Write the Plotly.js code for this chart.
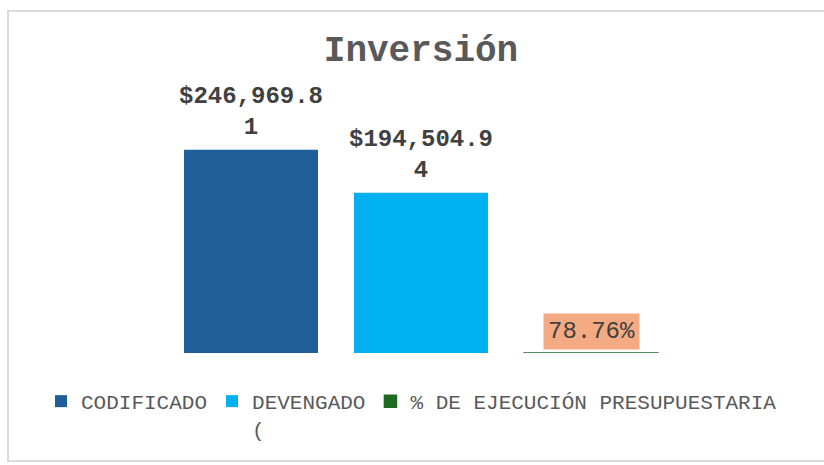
<!DOCTYPE html>
<html>
<head>
<meta charset="utf-8">
<script src="https://cdn.plot.ly/plotly-3.0.1.min.js"></script>
<style>
  body { margin: 0; background: #fff; }
  #grafico { width: 824px; height: 465px; }
  #marco { position: absolute; left: 7px; top: 10px; width: 840px; height: 448px;
           border: 2px solid #d9d9d9; pointer-events: none; }
</style>
</head>
<body>
<div id="grafico"></div>
<div id="marco"></div>
<script>
const categorias = ['CODIFICADO', 'DEVENGADO', '% DE EJECUCIÓN PRESUPUESTARIA'];
const nombresLeyenda = ['CODIFICADO', 'DEVENGADO<br>(', '% DE EJECUCIÓN PRESUPUESTARIA'];
const valores = [246969.81, 194504.94, 78.76];
const etiquetas = ['$246,969.8<br>1', '$194,504.9<br>4', '78.76%'];
const colores = ['#205E99', '#00B0F0', '#1D6B23'];

const fuente = 'Liberation Mono, Courier New, monospace';

// el área del gráfico llega hasta el borde derecho para que la leyenda quepa en una línea
const margenIzq = 166;
const pasoCategoria = 170;
const anchoArea = 824 - margenIzq;

const trazas = categorias.map((c, i) => ({
  type: 'bar',
  x: [i],
  y: [valores[i]],
  name: nombresLeyenda[i],
  width: 0.788,
  marker: { color: colores[i], line: { color: colores[i], width: i === 2 ? 1.5 : 0 } },
  hoverinfo: 'none'
}));

const anotaciones = etiquetas.map((t, i) => ({
  x: i,
  y: valores[i],
  xref: 'x',
  yref: 'y',
  text: i === 2 ? t : '<b>' + t + '</b>',
  showarrow: false,
  yanchor: 'bottom',
  yshift: i === 2 ? 3 : 8,
  font: { family: fuente, size: 24, color: '#404040' },
  bgcolor: i === 2 ? '#F4AA82' : 'rgba(0,0,0,0)',
  borderpad: i === 2 ? 4 : 0
}));

const layout = {
  width: 824,
  height: 465,
  margin: { l: margenIzq, r: 0, t: 106, b: 112 },
  paper_bgcolor: '#fff',
  plot_bgcolor: '#fff',
  title: {
    text: '<b>Inversión</b>',
    font: { family: fuente, size: 36, color: '#595959' },
    x: 421 / 824, xref: 'container', xanchor: 'center',
    y: 1 - 48 / 465, yref: 'container', yanchor: 'middle'
  },
  xaxis: { range: [-0.5, -0.5 + anchoArea / pasoCategoria], visible: false, fixedrange: true },
  yaxis: { range: [0, 300000], visible: false, fixedrange: true },
  showlegend: true,
  legend: {
    orientation: 'h',
    x: (41 - margenIzq) / anchoArea, xref: 'paper', xanchor: 'left',
    y: (353 - 381) / 247, yref: 'paper', yanchor: 'top',
    valign: 'top',
    font: { family: fuente, size: 21, color: '#595959' },
    itemclick: false, itemdoubleclick: false
  },
  annotations: anotaciones
};

Plotly.newPlot('grafico', trazas, layout, { displayModeBar: false, staticPlot: true });
</script>
</body>
</html>
